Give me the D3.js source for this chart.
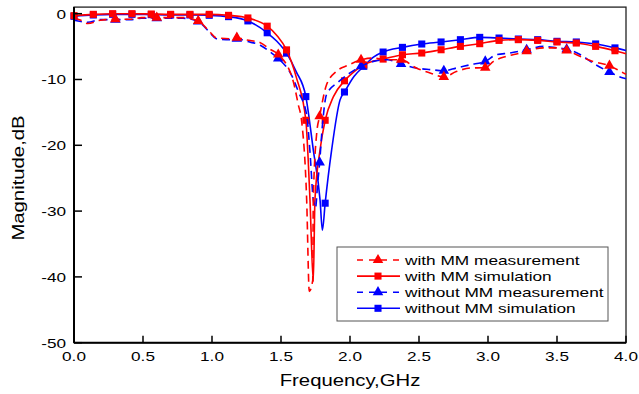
<!DOCTYPE html>
<html>
<head>
<meta charset="utf-8">
<script src="https://cdn.jsdelivr.net/npm/d3@7"></script>
<style>
  body { margin: 0; background: #fff; }
  text { font-family: Arial, "Liberation Sans", sans-serif; }
</style>
</head>
<body>
<script>
const W = 639, H = 394;
const STRETCH = 1.27; // text in the source looks horizontally stretched

// --- data: [frequency GHz, magnitude dB] ---
const redSim = [[0,-0.3],[0.14,-0.1],[0.28,0],[0.42,0],[0.56,-0.05],[0.70,-0.1],[0.84,-0.1],[0.98,-0.1],
  [1.12,-0.25],[1.26,-0.65],[1.40,-1.9],[1.47,-3.3],[1.54,-5.5],[1.61,-9.6],[1.68,-16.2],[1.71,-28.3],
  [1.734,-40.7],[1.746,-28.3],[1.783,-20.7],[1.82,-16.2],[1.88,-12.6],[1.96,-10.2],[2.03,-8.8],[2.10,-7.8],
  [2.17,-7.2],[2.24,-6.9],[2.38,-6.24],[2.52,-5.98],[2.66,-5.48],[2.80,-4.97],[2.94,-4.56],[3.08,-4.06],
  [3.22,-3.95],[3.36,-4.06],[3.50,-4.3],[3.64,-4.46],[3.78,-4.97],[3.92,-5.63],[4.0,-6.1]];

const blueSim = [[0,-0.4],[0.14,-0.2],[0.28,-0.1],[0.42,-0.1],[0.56,-0.15],[0.70,-0.2],[0.84,-0.2],[0.98,-0.25],
  [1.12,-0.45],[1.26,-1.1],[1.40,-2.9],[1.47,-4.2],[1.54,-6.0],[1.61,-8.8],[1.68,-12.6],[1.734,-20.7],
  [1.783,-28.3],[1.80,-32.9],[1.82,-28.8],[1.867,-20.7],[1.928,-13.1],[1.96,-11.9],[2.03,-9.5],[2.10,-8.0],
  [2.17,-6.6],[2.24,-5.83],[2.38,-5.12],[2.52,-4.61],[2.66,-4.3],[2.80,-3.95],[2.94,-3.6],[3.08,-3.7],
  [3.22,-3.85],[3.36,-3.95],[3.50,-4.2],[3.64,-4.3],[3.78,-4.6],[3.92,-5.2],[4.0,-5.6]];

const redMeas = [[0,-0.7],[0.05,-1.0],[0.10,-1.5],[0.19,-1.0],[0.30,-0.85],[0.41,-0.85],[0.49,-0.6],[0.60,-0.6],
  [0.70,-0.6],[0.79,-0.6],[0.90,-1.1],[0.99,-2.9],[1.03,-3.65],[1.13,-3.8],[1.18,-3.65],[1.25,-4.0],
  [1.35,-4.4],[1.42,-5.4],[1.48,-6.2],[1.589,-10.3],[1.625,-13.8],[1.65,-16.4],[1.686,-28.3],[1.705,-42.2],
  [1.73,-40.5],[1.734,-28.3],[1.759,-18.1],[1.78,-15.6],[1.83,-10.8],[1.90,-8.8],[1.99,-7.8],[2.08,-7.0],
  [2.17,-6.75],[2.27,-7.0],[2.37,-7.0],[2.48,-8.26],[2.58,-9.0],[2.68,-9.6],[2.77,-8.8],[2.87,-8.26],
  [2.98,-8.2],[3.04,-7.25],[3.13,-6.5],[3.23,-6.0],[3.28,-5.7],[3.40,-5.2],[3.50,-5.2],[3.57,-5.58],
  [3.67,-6.5],[3.76,-7.25],[3.88,-7.9],[3.98,-9.0],[4.0,-9.2]];

const blueMeas = [[0,-1.0],[0.05,-1.2],[0.10,-1.3],[0.19,-0.9],[0.30,-0.9],[0.41,-0.9],[0.49,-0.7],[0.60,-0.7],
  [0.70,-0.7],[0.79,-0.7],[0.90,-1.2],[0.99,-3.0],[1.03,-3.8],[1.13,-3.95],[1.18,-3.8],[1.25,-4.2],
  [1.35,-4.8],[1.42,-5.8],[1.48,-6.8],[1.58,-9.5],[1.625,-11.8],[1.686,-15.4],[1.71,-21],[1.734,-28.3],
  [1.75,-29.5],[1.765,-26],[1.78,-22.6],[1.80,-17],[1.83,-12.3],[1.92,-10.3],[2.00,-9.0],[2.08,-8.0],
  [2.17,-7.25],[2.27,-7.0],[2.37,-7.65],[2.48,-8.26],[2.58,-8.5],[2.68,-8.67],[2.77,-8.26],[2.87,-7.76],
  [2.98,-7.25],[3.06,-6.24],[3.16,-5.98],[3.28,-5.48],[3.40,-4.97],[3.50,-5.2],[3.57,-5.4],[3.67,-6.24],
  [3.76,-7.5],[3.88,-8.87],[3.98,-9.78],[4.0,-9.9]];

// marker frequencies
const simMarks = [0,0.14,0.28,0.42,0.56,0.70,0.84,0.98,1.12,1.26,1.40,1.54,1.68,1.82,1.96,2.10,2.24,
  2.38,2.52,2.66,2.80,2.94,3.08,3.22,3.36,3.50,3.64,3.78,3.92];
const measMarks = [0.30,0.60,0.90,1.18,1.48,1.78,2.08,2.37,2.68,2.98,3.28,3.57,3.88];

const xTicks = [0,0.5,1,1.5,2,2.5,3,3.5,4];
const yTicks = [0,-10,-20,-30,-40,-50];

const series = [
  { name: "without MM simulation", data: blueSim, marks: simMarks, color: "#0000ff", dash: null, shape: "square" },
  { name: "with MM simulation", data: redSim, marks: simMarks, color: "#ff0000", dash: null, shape: "square" },
  { name: "without MM measurement", data: blueMeas, marks: measMarks, color: "#0000ff", dash: "8,5", shape: "tri" },
  { name: "with MM measurement", data: redMeas, marks: measMarks, color: "#ff0000", dash: "8,5", shape: "tri" }
];
const legendOrder = ["with MM measurement", "with MM simulation", "without MM measurement", "without MM simulation"];

const x = d3.scaleLinear().domain([0, 4]).range([74, 626]);
const y = d3.scaleLinear().domain([-50, 1]).range([342.7, 7.1]);

const svg = d3.select("body").append("svg")
  .attr("width", W).attr("height", H);

// text is stretched along its own direction, rotated or not
function stretchedText(g, tx, ty, str, size, anchor, rotate) {
  return g.append("text")
    .attr("transform", `translate(${tx},${ty})` + (rotate ? ` rotate(${rotate})` : "") + ` scale(${STRETCH},1)`)
    .attr("text-anchor", anchor)
    .style("font-size", size + "px")
    .text(str);
}

function symbolPath(shape) {
  return shape === "square"
    ? d3.symbol(d3.symbolSquare, 50)()
    : d3.symbol(d3.symbolTriangle, 48)();
}

// frame
svg.append("rect")
  .attr("x", x(0)).attr("y", y(1))
  .attr("width", x(4) - x(0)).attr("height", y(-50) - y(1))
  .attr("fill", "none").attr("stroke", "#222").attr("stroke-width", 1.3);

// curves
const line = d3.line().x(d => x(d[0])).y(d => y(d[1])).curve(d3.curveMonotoneX);

series.forEach(s => {
  svg.append("path")
    .datum(s.data)
    .attr("d", line)
    .attr("fill", "none")
    .attr("stroke", s.color)
    .attr("stroke-width", 1.6)
    .attr("stroke-dasharray", s.dash);

  svg.append("g").selectAll("path")
    .data(s.data.filter(d => s.marks.includes(d[0])))
    .join("path")
    .attr("d", symbolPath(s.shape))
    .attr("transform", d => `translate(${x(d[0])},${y(d[1])})`)
    .attr("fill", s.color);
});

// axes (ticks inward)
const ax = svg.append("g");
ax.append("line").attr("x1", x(0)).attr("x2", x(4)).attr("y1", y(-50)).attr("y2", y(-50))
  .attr("stroke", "#000").attr("stroke-width", 2);
ax.append("line").attr("x1", x(0)).attr("x2", x(0)).attr("y1", y(1)).attr("y2", y(-50))
  .attr("stroke", "#000").attr("stroke-width", 2);

xTicks.forEach(t => {
  ax.append("line").attr("x1", x(t)).attr("x2", x(t)).attr("y1", y(-50)).attr("y2", y(-50) - 7)
    .attr("stroke", "#000").attr("stroke-width", 1.5);
  stretchedText(ax, x(t), 361, d3.format(".1f")(t), 13.5, "middle");
});
yTicks.forEach(t => {
  ax.append("line").attr("x1", x(0)).attr("x2", x(0) + 8).attr("y1", y(t)).attr("y2", y(t))
    .attr("stroke", "#000").attr("stroke-width", 1.5);
  stretchedText(ax, 66, y(t) + 5, String(t), 13.5, "end");
});

stretchedText(svg, 350, 386, "Frequency,GHz", 16, "middle");
stretchedText(svg, 24, 178, "Magnitude,dB", 16, "middle", -90);

// legend
const lg = svg.append("g");
lg.append("rect").attr("x", 337).attr("y", 247).attr("width", 271).attr("height", 74)
  .attr("fill", "#fff").attr("stroke", "#555").attr("stroke-width", 1);

legendOrder.forEach((name, i) => {
  const s = series.find(d => d.name === name);
  const ly = 260 + i * 16.1;
  lg.append("line").attr("x1", 357).attr("x2", 400).attr("y1", ly).attr("y2", ly)
    .attr("stroke", s.color).attr("stroke-width", 1.6).attr("stroke-dasharray", s.dash ? "6,6" : null);
  lg.append("path").attr("d", symbolPath(s.shape))
    .attr("transform", `translate(378,${ly})`).attr("fill", s.color);
  stretchedText(lg, 405, ly + 5, name, 13.6, "start");
});
</script>
</body>
</html>
